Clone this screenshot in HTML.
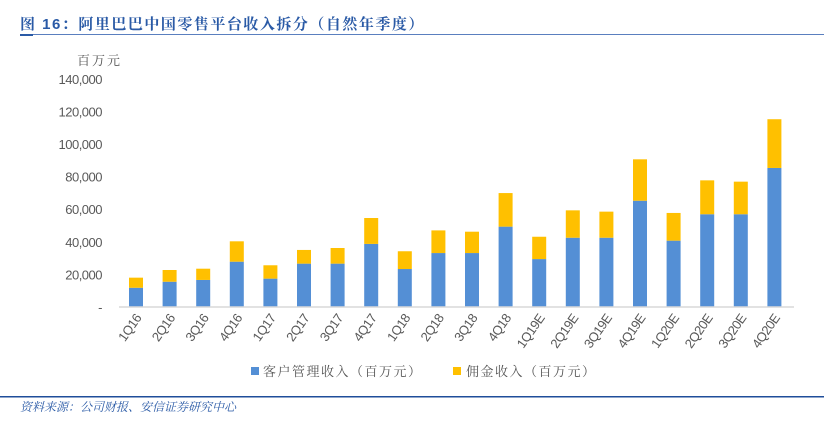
<!DOCTYPE html>
<html><head><meta charset="utf-8"><style>
body{margin:0;background:#fff;width:824px;height:420px;overflow:hidden;font-family:"Liberation Sans","Noto Sans CJK SC",sans-serif}
</style></head><body>
<svg width="824" height="420" xmlns="http://www.w3.org/2000/svg">
<text x="20" y="29" font-size="15" font-weight="bold" fill="#2a5aa6" font-family="Liberation Sans,Noto Serif CJK SC,sans-serif" letter-spacing="1.5">图 16：阿里巴巴中国零售平台收入拆分（自然年季度）</text>
<rect x="20" y="34" width="804" height="1" fill="#5a7fbf"/>
<rect x="20" y="34" width="13" height="2" fill="#2a5aa6"/>
<text x="77" y="65" font-size="13" fill="#555" font-family="Noto Serif CJK SC,serif" letter-spacing="2">百万元</text>
<g id="yaxis"></g>
<g id="bars"></g>
<line x1="119" y1="307" x2="794" y2="307" stroke="#d9d9d9" stroke-width="1.5"/>
<g id="xaxis"></g>
<g>
<g><rect x="251" y="367" width="8" height="8" fill="#548fd5"/><text x="263" y="376" font-size="13" fill="#555" font-family="Noto Serif CJK SC,serif" letter-spacing="1.5">客户管理收入（百万元）</text></g>
<g><rect x="453" y="367" width="8" height="8" fill="#ffc000"/><text x="466" y="376" font-size="13" fill="#555" font-family="Noto Serif CJK SC,serif" letter-spacing="1.5">佣金收入（百万元）</text></g>
</g>
<rect x="0" y="396" width="824" height="1.5" fill="#1f4e9a"/>
<text x="20" y="411" font-size="12" fill="#2a5aa6" font-style="italic" font-family="Noto Serif CJK SC,serif">资料来源：公司财报、安信证券研究中心</text>
</svg>
<script>
const categories=["1Q16","2Q16","3Q16","4Q16","1Q17","2Q17","3Q17","4Q17","1Q18","2Q18","3Q18","4Q18","1Q19E","2Q19E","3Q19E","4Q19E","1Q20E","2Q20E","3Q20E","4Q20E"];
const customerMgmt=[11800,15500,16600,27800,17400,26600,26600,38700,23300,33100,33100,49300,29400,42500,42500,65200,40700,56900,56900,85300];
const commission=[6200,7200,6900,12500,8200,8400,9600,15900,10900,13900,13100,20600,13700,16800,16000,25400,17000,20800,20000,29900];
const yTicks=[0,20000,40000,60000,80000,100000,120000,140000];
const yTickLabels=["-","20,000","40,000","60,000","80,000","100,000","120,000","140,000"];
const NS="http://www.w3.org/2000/svg";
const y=v=>307-v*32.6/20000;
const x=i=>136+i*33.6;
const bw=14;
const ya=document.getElementById('yaxis'),ba=document.getElementById('bars'),xa=document.getElementById('xaxis');
yTicks.forEach((t,i)=>{const e=document.createElementNS(NS,'text');


e.setAttribute('x',102);e.setAttribute('y',y(t)+5);e.setAttribute('text-anchor','end');e.setAttribute('font-size','13');e.setAttribute('fill','#595959');e.setAttribute('letter-spacing','-0.5');e.textContent=yTickLabels[i];ya.appendChild(e);});
categories.forEach((c,i)=>{
const b=document.createElementNS(NS,'rect');


b.setAttribute('x',x(i)-bw/2);b.setAttribute('y',y(customerMgmt[i]));b.setAttribute('width',bw);b.setAttribute('height',307-y(customerMgmt[i]));b.setAttribute('fill','#548fd5');ba.appendChild(b);
const t=customerMgmt[i]+commission[i];
const r=document.createElementNS(NS,'rect');


r.setAttribute('x',x(i)-bw/2);r.setAttribute('y',y(t));r.setAttribute('width',bw);r.setAttribute('height',y(customerMgmt[i])-y(t));r.setAttribute('fill','#ffc000');ba.appendChild(r);
const l=document.createElementNS(NS,'text');


const lx=x(i)+6,ly=318;
l.setAttribute('x',lx);l.setAttribute('y',ly);l.setAttribute('text-anchor','end');l.setAttribute('font-size','13');l.setAttribute('fill','#595959');l.setAttribute('letter-spacing','-0.5');l.setAttribute('transform','rotate(-55 '+lx+' '+ly+')');l.textContent=c;xa.appendChild(l);
});
</script>
</body></html>
